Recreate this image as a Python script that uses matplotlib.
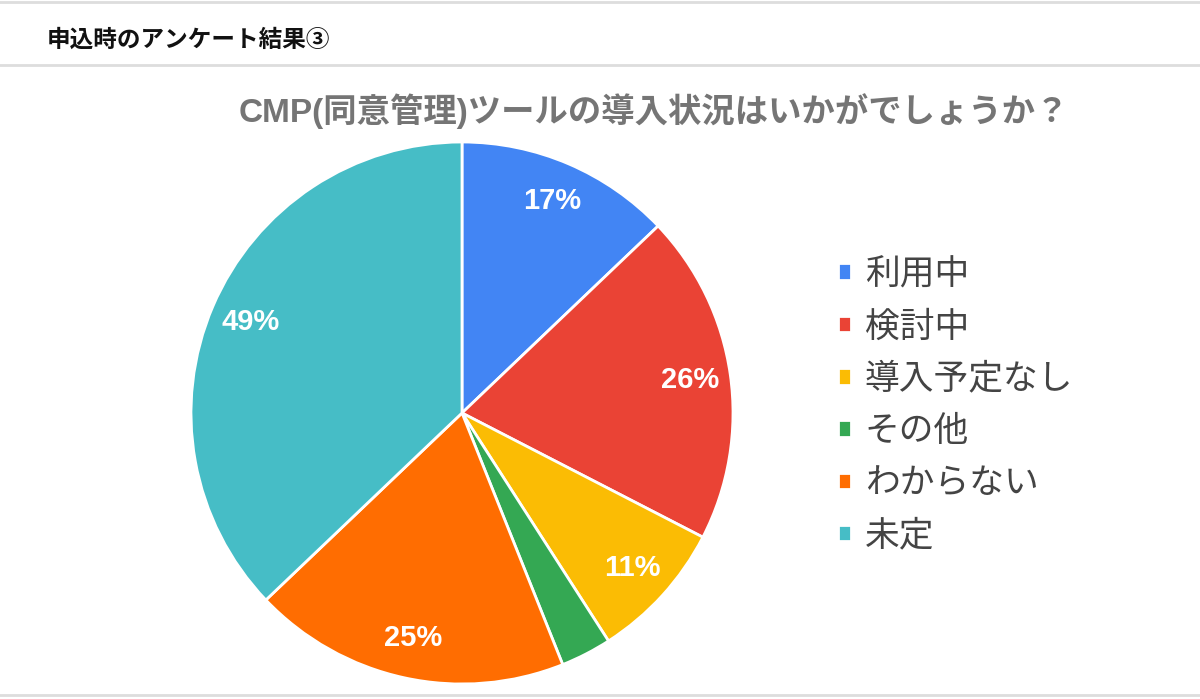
import matplotlib
matplotlib.use("Agg")
from matplotlib import pyplot as plt
from matplotlib.lines import Line2D

# Survey answers (shown labels are share of respondents, multiple answers allowed).
categories = ["利用中", "検討中", "導入予定なし", "その他", "わからない", "未定"]
values = [17, 26, 11, 4, 25, 49]
colors = ["#4285F4", "#EA4335", "#FBBC04", "#34A853", "#FF6D01", "#46BDC6"]

header = "申込時のアンケート結果③"
title = "CMP(同意管理)ツールの導入状況はいかがでしょうか？"

plt.rcParams["font.family"] = ["Liberation Sans", "Noto Sans CJK JP", "DejaVu Sans"]

W, H = 1200, 699
fig = plt.figure(figsize=(W / 100, H / 100), dpi=100)
fig.patch.set_facecolor("white")

# Frame lines of the card.
for y in (2, 65, 695):
    fig.add_artist(Line2D([0, 1], [1 - y / H, 1 - y / H], color="#dddddd", lw=2))

fig.text(47 / W, 1 - 40 / H, header, fontsize=17, fontweight="bold", color="#111111",
         va="center", ha="left")
fig.text(654 / W, 1 - 111 / H, title, fontsize=24, fontweight="bold", color="#757575",
         va="center", ha="center")

# Pie placed as a square in pixel space.
cx, cy, r = 462, 413, 271
ax = fig.add_axes([(cx - r) / W, (H - cy - r) / H, 2 * r / W, 2 * r / H])
total = sum(values)


def fmt(p):
    v = p * total / 100
    return f"{v:.0f}%" if p > 5 else ""


wedges, texts, autotexts = ax.pie(
    values, colors=colors, startangle=90, counterclock=False, radius=1,
    autopct=fmt, pctdistance=0.85,
    wedgeprops=dict(edgecolor="white", linewidth=2),
    textprops=dict(color="white", fontsize=21, fontweight="bold"),
)
ax.set_xlim(-1, 1)
ax.set_ylim(-1, 1)
ax.set_aspect("equal")
ax.axis("off")

fig.legend(wedges, categories, loc="upper left", bbox_to_anchor=(807 / W, 1 - 227 / H),
           frameon=False, fontsize=25, labelcolor="#444444",
           handlelength=0.36, handleheight=0.36, handletextpad=0.4, labelspacing=0.555)

fig.savefig("out.png", dpi=100)
